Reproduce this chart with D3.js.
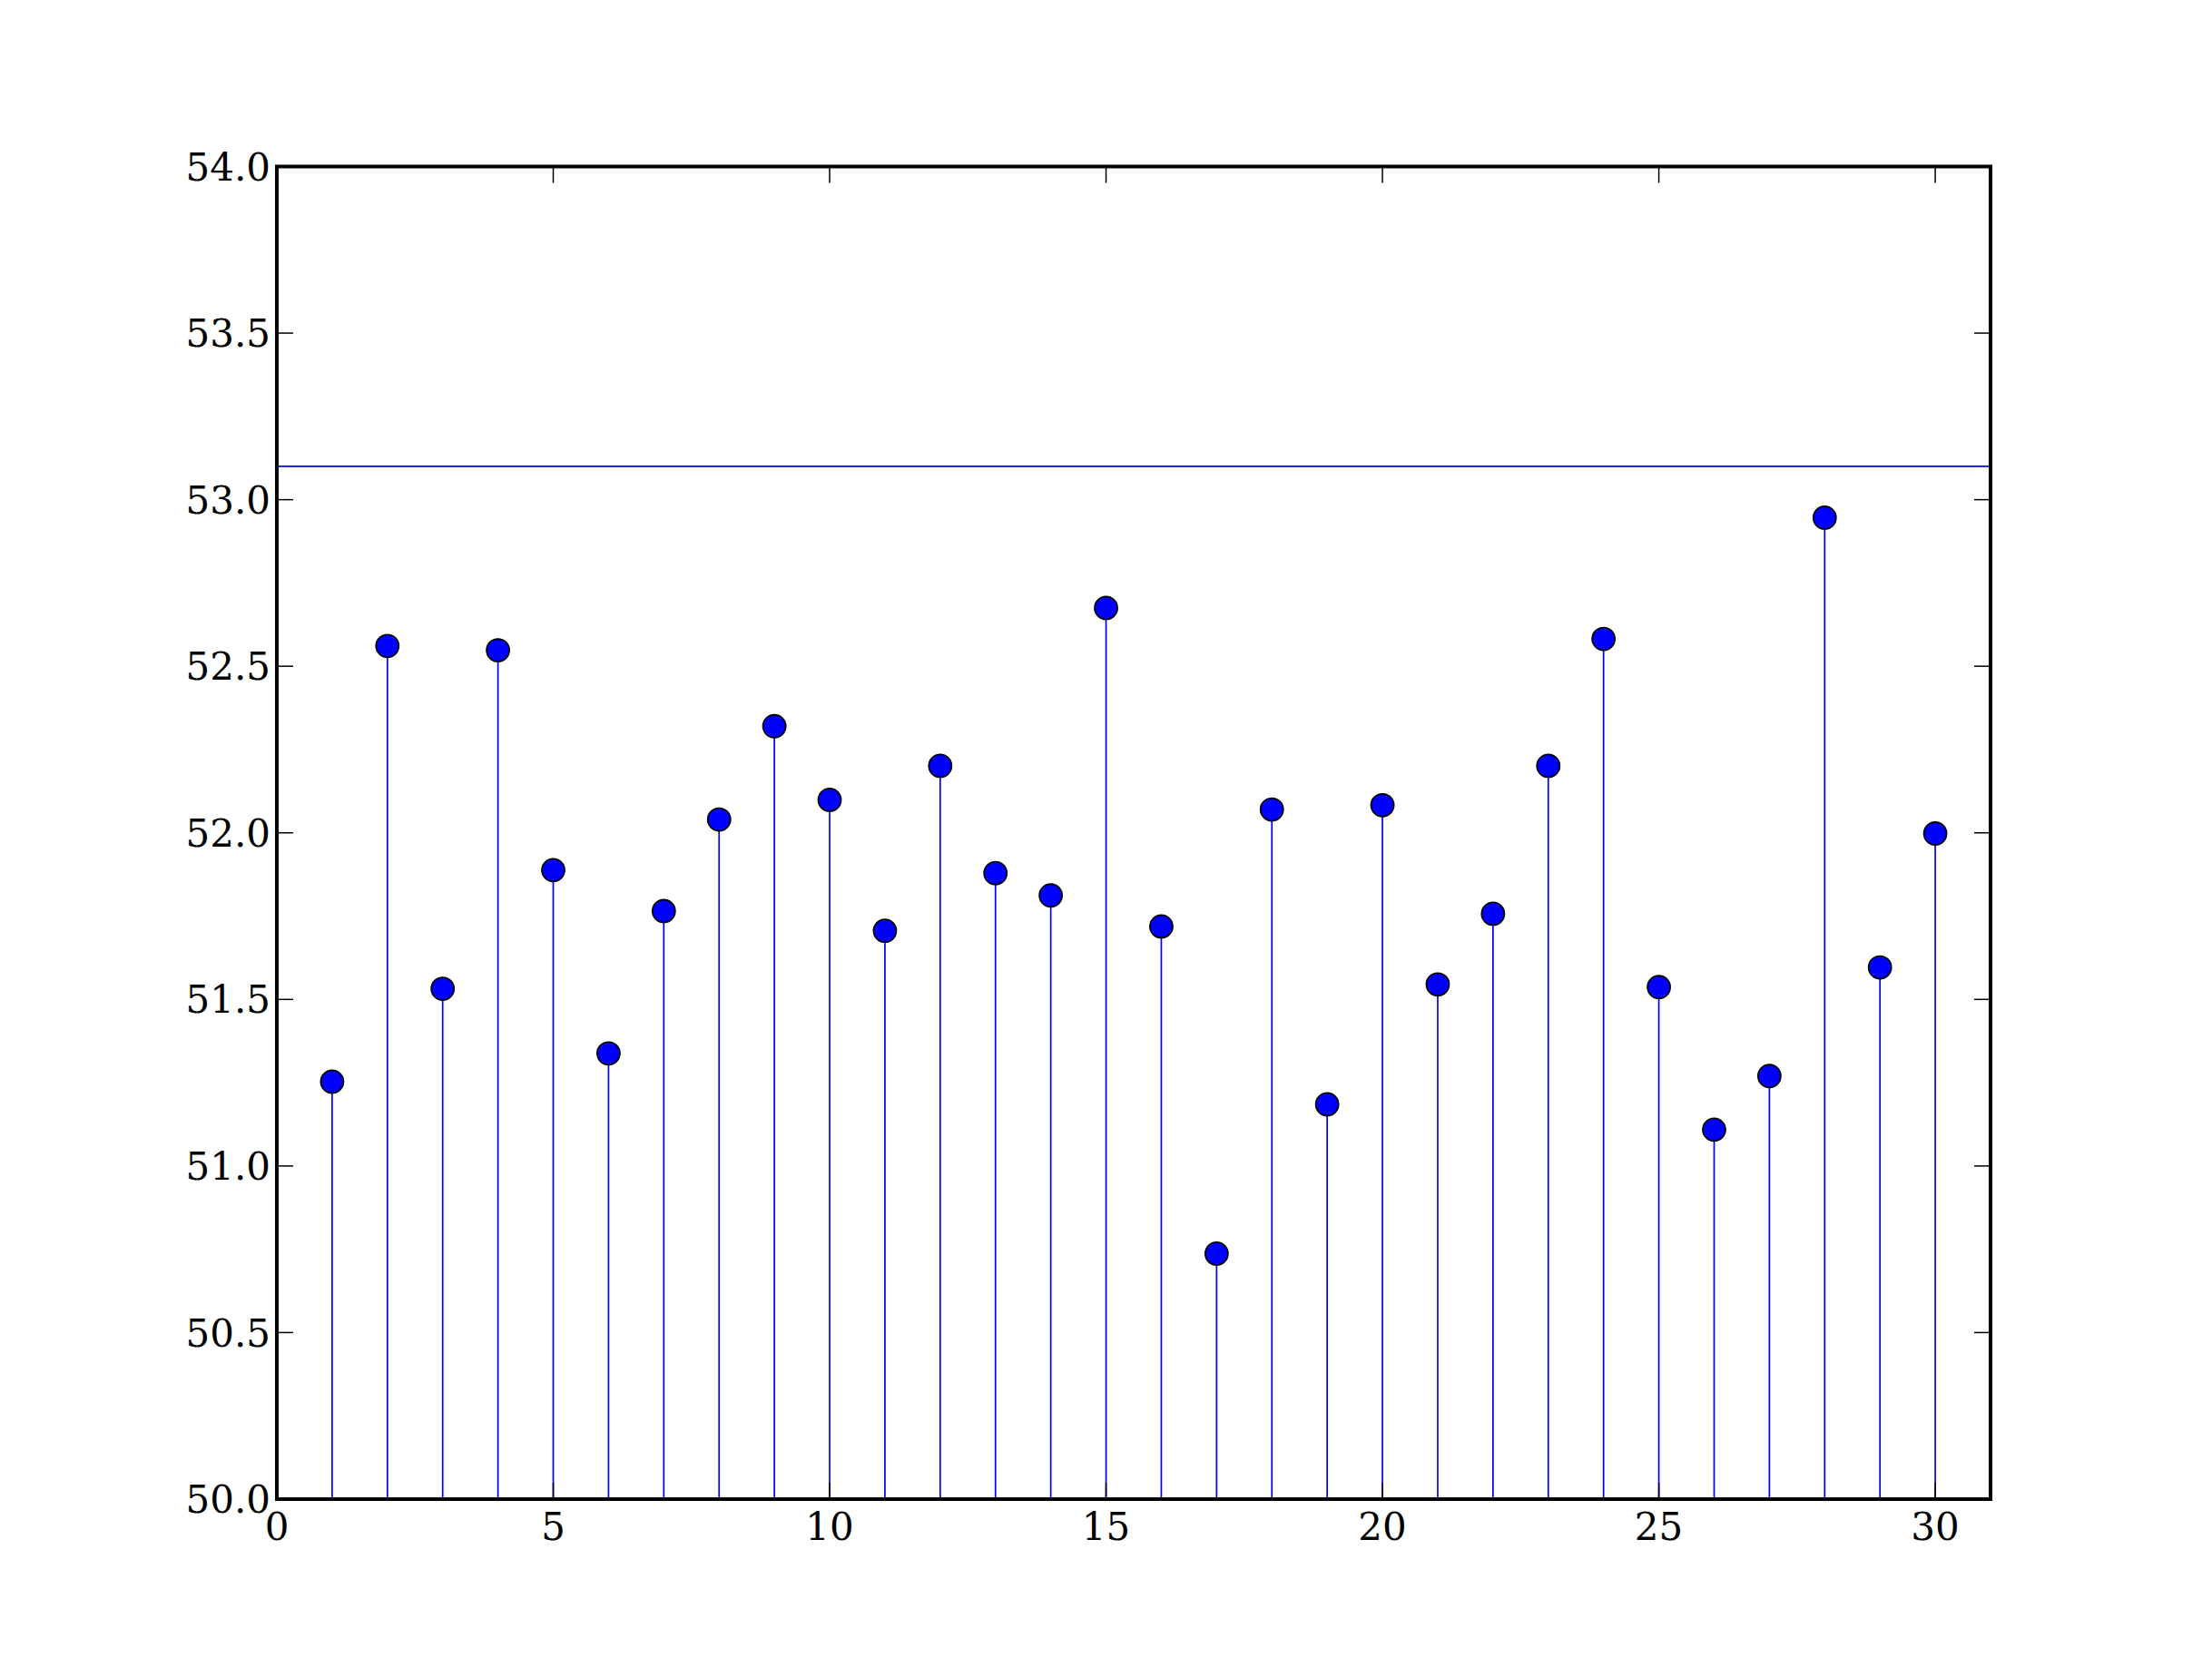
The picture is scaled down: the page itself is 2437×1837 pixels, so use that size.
<!DOCTYPE html>
<html>
<head>
    <meta charset="utf-8">
    <title>stem plot</title>
    <script type="text/javascript" src="https://cdn.jsdelivr.net/npm/d3@7"></script>
    <style>
        body { margin: 0; background: #fff; }
        text { font-family: "DejaVu Serif", serif; }
    </style>
</head>
<body>
<script type="text/javascript">
        var width = 2437
        var height = 1837

        // data
        var xs = [1,2,3,4,5,6,7,8,9,10,11,12,13,14,15,16,17,18,19,20,21,22,23,24,25,26,27,28,29,30]
        var ys = [51.253,52.561,51.532,52.548,51.888,51.338,51.765,52.040,52.320,52.099,
                  51.706,52.201,51.879,51.812,52.675,51.719,50.737,52.070,51.185,52.083,
                  51.545,51.757,52.201,52.582,51.537,51.109,51.270,52.946,51.596,51.998]
        var refLine = 53.1
        var xTicks = [0,5,10,15,20,25,30]
        var yTicks = [50.0,50.5,51.0,51.5,52.0,52.5,53.0,53.5,54.0]

        // note: "top" is taken by window.top, so use p* names
        var pLeft = 305, pRight = 2193, pTop = 183.5, pBottom = 1652

        var svg = d3.select("body")
            .append("svg").attr("width", width)
            .attr("height", height)

        var x = d3.scaleLinear().domain([0, 31]).range([pLeft, pRight])
        var y = d3.scaleLinear().domain([50, 54]).range([pBottom, pTop])

        // stems
        svg.selectAll("line.stem")
            .data(xs)
            .enter()
            .append("line")
            .attr("class", "stem")
            .attr("x1", function(d){ return x(d) })
            .attr("x2", function(d){ return x(d) })
            .attr("y1", y(50))
            .attr("y2", function(d, i){ return y(ys[i]) })
            .attr("stroke", "#0000ff")
            .attr("stroke-width", 1.7)

        // reference line
        svg.append("line")
            .attr("x1", x(0)).attr("x2", x(31))
            .attr("y1", y(refLine)).attr("y2", y(refLine))
            .attr("stroke", "#0000ff")
            .attr("stroke-width", 1.7)

        // ticks on all four sides, pointing inward
        var tl = 18
        var g = svg.append("g")
        xTicks.forEach(function(t){
            g.append("line").attr("x1", x(t)).attr("x2", x(t))
                .attr("y1", pBottom).attr("y2", pBottom - tl)
                .attr("stroke", "#000").attr("stroke-width", 1.5)
            g.append("line").attr("x1", x(t)).attr("x2", x(t))
                .attr("y1", pTop).attr("y2", pTop + tl)
                .attr("stroke", "#000").attr("stroke-width", 1.5)
            svg.append("text")
                .attr("x", x(t)).attr("y", pBottom + 45)
                .attr("text-anchor", "middle")
                .attr("font-size", 42)
                .text(t)
        })
        yTicks.forEach(function(t){
            g.append("line").attr("x1", pLeft).attr("x2", pLeft + tl)
                .attr("y1", y(t)).attr("y2", y(t))
                .attr("stroke", "#000").attr("stroke-width", 1.5)
            g.append("line").attr("x1", pRight).attr("x2", pRight - tl)
                .attr("y1", y(t)).attr("y2", y(t))
                .attr("stroke", "#000").attr("stroke-width", 1.5)
            svg.append("text")
                .attr("x", pLeft - 7).attr("y", y(t))
                .attr("dy", "0.36em")
                .attr("text-anchor", "end")
                .attr("font-size", 42)
                .text(t.toFixed(1))
        })

        // markers
        svg.selectAll("circle")
            .data(xs)
            .enter()
            .append("circle")
            .attr("cx", function(d){ return x(d) })
            .attr("cy", function(d, i){ return y(ys[i]) })
            .attr("r", 12.5)
            .attr("fill", "#0000ff")
            .attr("stroke", "#000")
            .attr("stroke-width", 1.8)

        // frame
        svg.append("rect")
            .attr("x", pLeft).attr("y", pTop)
            .attr("width", pRight - pLeft).attr("height", pBottom - pTop)
            .attr("fill", "none")
            .attr("stroke", "#000")
            .attr("stroke-width", 4)
</script>
</body>
</html>
